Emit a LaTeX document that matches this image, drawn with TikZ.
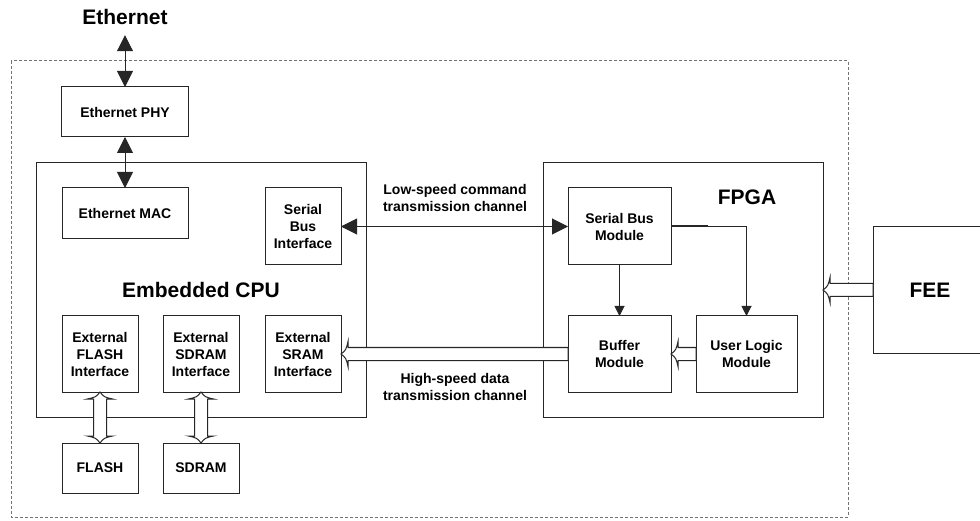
\documentclass[tikz,border=0pt]{standalone}
\usepackage{fontspec}
\setmainfont{Liberation Sans}
\usetikzlibrary{
    positioning,
    arrows.meta,
    calc
}

% hul pil fra #1 til #2 (spiss ved #2)
\newcommand{\hulpil}[2]{%
  \coordinate (ha) at ($(#2)!7pt!(#1)$);
  \coordinate (hk) at ($(#2)!5pt!(#1)$);
  \filldraw[hulstil] ($(#1)!6.5pt!90:(#2)$) -- ($(ha)!6.5pt!90:(#2)$) -- ($(ha)!12.5pt!90:(#2)$)
    .. controls ($(hk)!4pt!90:(#2)$) .. (#2)
    .. controls ($(hk)!4pt!-90:(#2)$) .. ($(ha)!12.5pt!-90:(#2)$)
    -- ($(ha)!6.5pt!-90:(#2)$) -- ($(#1)!6.5pt!-90:(#2)$) -- cycle;}
% hul dobbelpil mellom #1 og #2
\newcommand{\huldobbel}[2]{%
  \coordinate (ha) at ($(#2)!7pt!(#1)$);
  \coordinate (hk) at ($(#2)!5pt!(#1)$);
  \coordinate (hb) at ($(#1)!7pt!(#2)$);
  \coordinate (hl) at ($(#1)!5pt!(#2)$);
  \filldraw[hulstil] (#1) .. controls ($(hl)!4pt!90:(#2)$) .. ($(hb)!12.5pt!90:(#2)$)
    -- ($(hb)!6.5pt!90:(#2)$) -- ($(ha)!6.5pt!90:(#2)$) -- ($(ha)!12.5pt!90:(#2)$)
    .. controls ($(hk)!4pt!90:(#2)$) .. (#2)
    .. controls ($(hk)!4pt!-90:(#2)$) .. ($(ha)!12.5pt!-90:(#2)$)
    -- ($(ha)!6.5pt!-90:(#2)$) -- ($(hb)!6.5pt!-90:(#2)$) -- ($(hb)!12.5pt!-90:(#2)$)
    .. controls ($(hl)!4pt!-90:(#2)$) .. cycle;}

\begin{document}
\begin{tikzpicture}[x=1pt, y=-1pt,
    boks/.style={draw=black!85, line width=1pt, outer sep=0pt, inner sep=1pt, align=center,
        font=\fontsize{14}{17}\selectfont\bfseries},
    stor/.style={inner sep=0pt, font=\fontsize{21}{24}\selectfont\bfseries},
    tekst/.style={inner sep=0pt, align=center, font=\fontsize{14}{17}\selectfont\bfseries},
    pil/.style={line width=1pt, draw=black!85,
        {Triangle[length=16pt,width=16pt]}-{Triangle[length=16pt,width=16pt]}},
    liten/.style={line width=1pt, draw=black!85, -{Triangle[length=10pt,width=10pt]}},
    hulstil/.style={line width=1pt, draw=black!85, fill=white, line join=miter}
]
    \useasboundingbox (0,0) rectangle (980,521);

    % Ytre ramme
    \draw[black!55, line width=1pt, dash pattern=on 3pt off 2pt] (11,61) rectangle (848,517);

    % Store blokker
    \node[boks, minimum width=330pt, minimum height=254pt, font=\fontsize{21}{24}\selectfont\bfseries]
        (cpu) at (201,290) {Embedded CPU};
    \node[boks, minimum width=280pt, minimum height=254pt] (fpga) at (683,290) {};
    \node[stor] (fpgatekst) at (747,197) {FPGA};
    \node[boks, minimum width=114pt, minimum height=126pt, font=\fontsize{21}{24}\selectfont\bfseries]
        (fee) at (930,290) {FEE};

    % Ethernet
    \node[stor, outer sep=10.5pt] (eth) at (125,17) {Ethernet};
    \node[boks, minimum width=127pt, minimum height=50pt] (phy) at (125,112) {Ethernet PHY};
    \node[boks, minimum width=126pt, minimum height=51pt] (mac) at (125,213.5) {Ethernet MAC};

    % Grensesnitt i CPU
    \node[boks, minimum width=76pt, minimum height=77pt] (sbi) at (303,226.5) {Serial\\Bus\\Interface};
    \node[boks, minimum width=76pt, minimum height=76pt] (flashif) at (100,354) {External\\FLASH\\Interface};
    \node[boks, minimum width=76pt, minimum height=76pt] (sdramif) at (201,354) {External\\SDRAM\\Interface};
    \node[boks, minimum width=76pt, minimum height=76pt] (sramif) at (303,354) {External\\SRAM\\Interface};

    % Minne
    \node[boks, minimum width=76pt, minimum height=50pt] (flash) at (100,468) {FLASH};
    \node[boks, minimum width=76pt, minimum height=50pt] (sdram) at (201,468) {SDRAM};

    % Moduler i FPGA
    \node[boks, minimum width=103pt, minimum height=77pt] (sbm) at (619.5,226.5) {Serial Bus\\Module};
    \node[boks, minimum width=103pt, minimum height=76pt] (buf) at (619.5,354) {Buffer\\Module};
    \node[boks, minimum width=101pt, minimum height=76pt] (ulm) at (746.5,354) {User Logic\\Module};

    % Kanaltekster
    \node[tekst] (lav) at (455,198) {Low-speed command\\transmission channel};
    \node[tekst] (hoy) at (455,387) {High-speed data\\transmission channel};

    % Piler
    \draw[pil] (eth.south) -- (phy.north);
    \draw[pil] (phy.south) -- (mac.north);
    \draw[pil] (sbi.east) -- (sbm.west);
    \draw[liten] (sbm.south) -- (buf.north);
    \draw[liten] (sbm.east) -| (ulm.north);
    \draw[line width=2pt, black!85] (sbm.east) -- ++(37,0);

    % Hule piler
    \hulpil{buf.west}{sramif.east}
    \hulpil{ulm.west}{buf.east}
    \hulpil{fee.west}{fpga.east}
    \huldobbel{flashif.south}{flash.north}
    \huldobbel{sdramif.south}{sdram.north}
\end{tikzpicture}
\end{document}
